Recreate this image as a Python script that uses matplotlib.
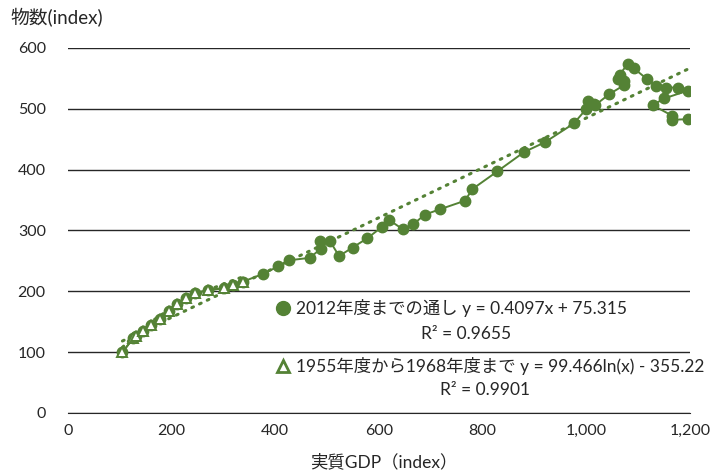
import numpy as np
import matplotlib
matplotlib.use('Agg')
import matplotlib.pyplot as plt
from matplotlib.ticker import FuncFormatter

plt.rcParams['font.family'] = ['Lato', 'Noto Sans CJK JP', 'DejaVu Sans']

# 実質GDP index (x) and 物数 index (y), FY1955-2012
gdp = [105, 126, 131, 144, 161, 178, 194, 211, 228, 245, 271, 300, 319, 338,
       377, 406, 426, 466, 488, 486, 505, 523, 549, 577,
       606, 620, 646, 666, 688, 718, 766, 780, 828, 880,
       920, 976, 999, 1004, 1014, 1017, 1044, 1073, 1073, 1061,
       1064, 1080, 1091, 1117, 1134, 1153, 1176, 1196, 1150, 1128,
       1165, 1165, 1196]
qty = [100, 123, 127, 135, 145, 154, 167, 179, 189, 197, 202, 205, 210, 216,
       229, 241, 251, 255, 270, 283, 283, 258, 272, 287,
       306, 317, 302, 310, 326, 335, 349, 368, 397, 429,
       445, 476, 499, 513, 508, 506, 524, 539, 546, 549,
       556, 574, 567, 549, 538, 535, 535, 530, 517, 506,
       489, 482, 483]
n_early = 14  # 1955-1968

lin_a, lin_b = 0.4097, 75.315
log_a, log_b = 99.466, -355.22

green = '#548235'
W, H = 718, 472

fig = plt.figure(figsize=(W / 100, H / 100), dpi=100)
ax = fig.add_axes([68 / W, 1 - 413 / H, (690 - 68) / W, (413 - 48) / H])

x_all = np.array(gdp, dtype=float)
y_all = np.array(qty, dtype=float)
x_e = x_all[:n_early]
y_e = y_all[:n_early]

# trendlines
xl = np.linspace(x_all.min(), x_all.max(), 200)
ax.plot(xl, lin_a * xl + lin_b, color=green, lw=2.2, ls=(0, (0.6, 2.2)),
        dash_capstyle='round', zorder=3)
xg = np.linspace(x_e.min(), x_e.max(), 100)
ax.plot(xg, log_a * np.log(xg) + log_b, color=green, lw=2.2, ls=(0, (0.6, 2.2)),
        dash_capstyle='round', zorder=3)

ax.plot(x_all, y_all, color=green, lw=1.4, marker='o', ms=7.5,
        mfc=green, mec=green, zorder=4)
ax.plot(x_e, y_e, color=green, lw=1.4, marker='^', ms=7,
        mfc='white', mec=green, mew=1.4, zorder=5)

ax.set_xlim(0, 1200)
ax.set_ylim(0, 600)
ax.set_xticks(range(0, 1201, 200))
ax.set_yticks(range(0, 601, 100))
ax.xaxis.set_major_formatter(FuncFormatter(lambda v, p: f'{int(v):,}'))
ax.grid(axis='y', color='#262626', lw=1.0)
ax.set_axisbelow(True)
for s in ['top', 'right', 'left']:
    ax.spines[s].set_visible(False)
ax.spines['bottom'].set_color('#262626')
ax.tick_params(length=0, labelsize=11.5, colors='#262626', pad=8)
ax.tick_params(axis='y', pad=16)

fig.text(10 / W, 1 - 18 / H, '物数(index)', fontsize=13.5, color='#262626',
         va='center', ha='left')
fig.text(384 / W, 1 - 462 / H, '実質GDP（index）', fontsize=12.5, color='#262626',
         va='center', ha='center')

# legend-like labels
def px(x, y):
    return x / W, 1 - y / H

fs = 12.5
fig.lines.append(plt.Line2D(*zip(px(283, 308)), marker='o', ms=10, color=green,
                            transform=fig.transFigure))
fig.text(*px(296, 308), '2012年度までの通し y = 0.4097x + 75.315', fontsize=fs,
         color='#262626', va='center', ha='left')
fig.text(*px(466, 334), 'R² = 0.9655', fontsize=fs, color='#262626',
         va='center', ha='center')
fig.lines.append(plt.Line2D(*zip(px(283, 366)), marker='^', ms=9, mfc='white',
                            mec=green, mew=2, color=green, transform=fig.transFigure))
fig.text(*px(296, 366), '1955年度から1968年度まで y = 99.466ln(x) - 355.22',
         fontsize=fs, color='#262626', va='center', ha='left')
fig.text(*px(485, 390), 'R² = 0.9901', fontsize=fs, color='#262626',
         va='center', ha='center')

fig.savefig('out.png', dpi=100, facecolor='white')
